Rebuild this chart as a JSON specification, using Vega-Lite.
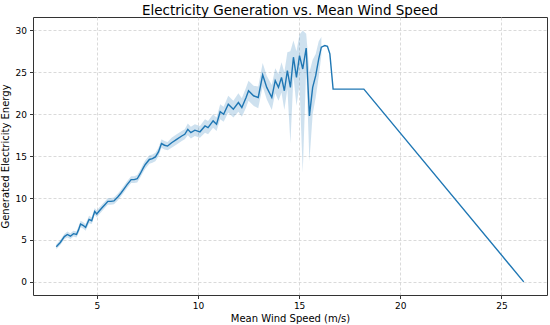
{
  "$schema": "https://vega.github.io/schema/vega-lite/v6.json",
  "width": 514,
  "height": 278,
  "autosize": "none",
  "padding": {"left": 33, "top": 17, "right": 3, "bottom": 30},
  "title": {"text": "Electricity Generation vs. Mean Wind Speed", "fontSize": 13.5, "fontWeight": "normal", "font": "DejaVu Sans", "color": "#000000", "offset": 4, "dy": 4, "anchor": "middle"},
  "config": {
    "view": {"stroke": "#333333", "strokeWidth": 1},
    "axis": {
      "domain": false,
      "grid": true,
      "gridColor": "#d0d0d0",
      "gridDash": [3, 2],
      "gridWidth": 0.8,
      "tickColor": "#000000",
      "tickSize": 3.5,
      "tickWidth": 0.8,
      "labelFont": "DejaVu Sans",
      "labelFontSize": 9,
      "labelColor": "#000000",
      "titleFont": "DejaVu Sans",
      "titleFontSize": 10,
      "titleFontWeight": "normal",
      "titleColor": "#000000"
    }
  },
  "data": {"values": [
    {"x": 3.0, "y": 4.2, "lo": 3.9, "hi": 4.5},
    {"x": 3.2, "y": 4.7, "lo": 4.4, "hi": 5.0},
    {"x": 3.4, "y": 5.4, "lo": 5.1, "hi": 5.7},
    {"x": 3.55, "y": 5.65, "lo": 5.3, "hi": 6.0},
    {"x": 3.7, "y": 5.45, "lo": 5.1, "hi": 5.8},
    {"x": 3.85, "y": 5.75, "lo": 5.4, "hi": 6.1},
    {"x": 4.0, "y": 5.65, "lo": 5.3, "hi": 6.0},
    {"x": 4.1, "y": 6.2, "lo": 5.8, "hi": 6.6},
    {"x": 4.2, "y": 6.9, "lo": 6.5, "hi": 7.3},
    {"x": 4.32, "y": 6.75, "lo": 6.35, "hi": 7.15},
    {"x": 4.45, "y": 6.5, "lo": 6.1, "hi": 6.9},
    {"x": 4.62, "y": 7.45, "lo": 7.0, "hi": 7.9},
    {"x": 4.75, "y": 7.3, "lo": 6.9, "hi": 7.7},
    {"x": 4.9, "y": 8.4, "lo": 8.0, "hi": 8.8},
    {"x": 5.0, "y": 8.1, "lo": 7.7, "hi": 8.5},
    {"x": 5.1, "y": 8.4, "lo": 8.0, "hi": 8.8},
    {"x": 5.25, "y": 8.8, "lo": 8.4, "hi": 9.2},
    {"x": 5.4, "y": 9.2, "lo": 8.8, "hi": 9.6},
    {"x": 5.55, "y": 9.6, "lo": 9.2, "hi": 10.0},
    {"x": 5.7, "y": 9.6, "lo": 9.2, "hi": 10.0},
    {"x": 5.85, "y": 9.65, "lo": 9.25, "hi": 10.05},
    {"x": 6.05, "y": 10.15, "lo": 9.75, "hi": 10.55},
    {"x": 6.2, "y": 10.6, "lo": 10.2, "hi": 11.0},
    {"x": 6.35, "y": 11.1, "lo": 10.7, "hi": 11.5},
    {"x": 6.5, "y": 11.6, "lo": 11.2, "hi": 12.0},
    {"x": 6.7, "y": 12.2, "lo": 11.8, "hi": 12.6},
    {"x": 6.85, "y": 12.2, "lo": 11.8, "hi": 12.6},
    {"x": 7.0, "y": 12.3, "lo": 11.85, "hi": 12.75},
    {"x": 7.15, "y": 12.9, "lo": 12.45, "hi": 13.35},
    {"x": 7.3, "y": 13.6, "lo": 13.1, "hi": 14.1},
    {"x": 7.4, "y": 14.0, "lo": 13.5, "hi": 14.5},
    {"x": 7.6, "y": 14.6, "lo": 14.1, "hi": 15.1},
    {"x": 7.75, "y": 14.7, "lo": 14.2, "hi": 15.2},
    {"x": 7.9, "y": 14.9, "lo": 14.4, "hi": 15.4},
    {"x": 8.05, "y": 15.5, "lo": 15.0, "hi": 16.0},
    {"x": 8.2, "y": 16.5, "lo": 16.0, "hi": 17.0},
    {"x": 8.35, "y": 16.3, "lo": 15.8, "hi": 16.8},
    {"x": 8.5, "y": 16.2, "lo": 15.7, "hi": 16.7},
    {"x": 8.7, "y": 16.6, "lo": 16.0, "hi": 17.2},
    {"x": 8.95, "y": 17.0, "lo": 16.4, "hi": 17.6},
    {"x": 9.2, "y": 17.4, "lo": 16.8, "hi": 18.0},
    {"x": 9.35, "y": 17.6, "lo": 17.0, "hi": 18.2},
    {"x": 9.5, "y": 18.2, "lo": 17.5, "hi": 18.9},
    {"x": 9.65, "y": 17.8, "lo": 17.1, "hi": 18.5},
    {"x": 9.85, "y": 18.1, "lo": 17.4, "hi": 18.8},
    {"x": 10.1, "y": 17.9, "lo": 17.2, "hi": 18.6},
    {"x": 10.35, "y": 18.6, "lo": 17.8, "hi": 19.4},
    {"x": 10.5, "y": 18.4, "lo": 17.6, "hi": 19.2},
    {"x": 10.75, "y": 19.2, "lo": 18.4, "hi": 20.0},
    {"x": 10.92, "y": 18.8, "lo": 18.0, "hi": 19.6},
    {"x": 11.1, "y": 20.3, "lo": 19.4, "hi": 21.2},
    {"x": 11.27, "y": 20.0, "lo": 19.1, "hi": 20.9},
    {"x": 11.5, "y": 21.2, "lo": 20.2, "hi": 22.2},
    {"x": 11.75, "y": 20.6, "lo": 19.6, "hi": 21.6},
    {"x": 12.0, "y": 21.4, "lo": 20.3, "hi": 22.5},
    {"x": 12.17, "y": 20.8, "lo": 19.7, "hi": 21.9},
    {"x": 12.38, "y": 22.0, "lo": 20.8, "hi": 23.2},
    {"x": 12.5, "y": 22.8, "lo": 21.6, "hi": 24.0},
    {"x": 12.75, "y": 22.2, "lo": 21.0, "hi": 23.4},
    {"x": 12.98, "y": 22.0, "lo": 20.7, "hi": 23.3},
    {"x": 13.2, "y": 24.7, "lo": 23.3, "hi": 26.1},
    {"x": 13.4, "y": 23.2, "lo": 21.8, "hi": 24.6},
    {"x": 13.65, "y": 22.0, "lo": 20.5, "hi": 23.5},
    {"x": 13.82, "y": 24.0, "lo": 22.5, "hi": 25.5},
    {"x": 13.98, "y": 23.2, "lo": 21.6, "hi": 24.8},
    {"x": 14.13, "y": 24.4, "lo": 22.6, "hi": 26.2},
    {"x": 14.27, "y": 22.8, "lo": 20.5, "hi": 25.0},
    {"x": 14.42, "y": 25.2, "lo": 23.0, "hi": 27.4},
    {"x": 14.57, "y": 23.2, "lo": 16.5, "hi": 27.5},
    {"x": 14.72, "y": 26.8, "lo": 24.5, "hi": 28.8},
    {"x": 14.87, "y": 24.4, "lo": 21.0, "hi": 27.5},
    {"x": 15.02, "y": 27.0, "lo": 23.5, "hi": 29.5},
    {"x": 15.18, "y": 25.4, "lo": 13.0, "hi": 30.0},
    {"x": 15.35, "y": 27.9, "lo": 25.5, "hi": 29.6},
    {"x": 15.51, "y": 19.8, "lo": 14.4, "hi": 25.0},
    {"x": 15.67, "y": 23.2, "lo": 20.0, "hi": 26.5},
    {"x": 15.82, "y": 24.6, "lo": 22.0, "hi": 27.2},
    {"x": 15.97, "y": 26.6, "lo": 24.5, "hi": 28.7},
    {"x": 16.1, "y": 28.0, "lo": 27.0, "hi": 29.2},
    {"x": 16.27, "y": 28.2},
    {"x": 16.4, "y": 28.1},
    {"x": 16.52, "y": 27.2},
    {"x": 16.68, "y": 23.0},
    {"x": 18.2, "y": 23.0},
    {"x": 26.1, "y": 0.0}
  ]},
  "layer": [
    {
      "mark": {"type": "area", "color": "#1f77b4", "opacity": 0.22},
      "encoding": {
        "x": {"field": "x", "type": "quantitative"},
        "y": {"field": "lo", "type": "quantitative"},
        "y2": {"field": "hi"}
      }
    },
    {
      "mark": {"type": "line", "color": "#1f77b4", "strokeWidth": 1.4},
      "encoding": {
        "x": {"field": "x", "type": "quantitative", "title": "Mean Wind Speed (m/s)",
              "scale": {"domain": [1.85, 27.25], "nice": false, "zero": false},
              "axis": {"values": [5, 10, 15, 20, 25], "labelPadding": 3, "titlePadding": 3}},
        "y": {"field": "y", "type": "quantitative", "title": "Generated Electricity Energy",
              "scale": {"domain": [-1.57, 31.6], "nice": false, "zero": false},
              "axis": {"values": [0, 5, 10, 15, 20, 25, 30], "labelPadding": 3, "titlePadding": 5}}
      }
    }
  ]
}
